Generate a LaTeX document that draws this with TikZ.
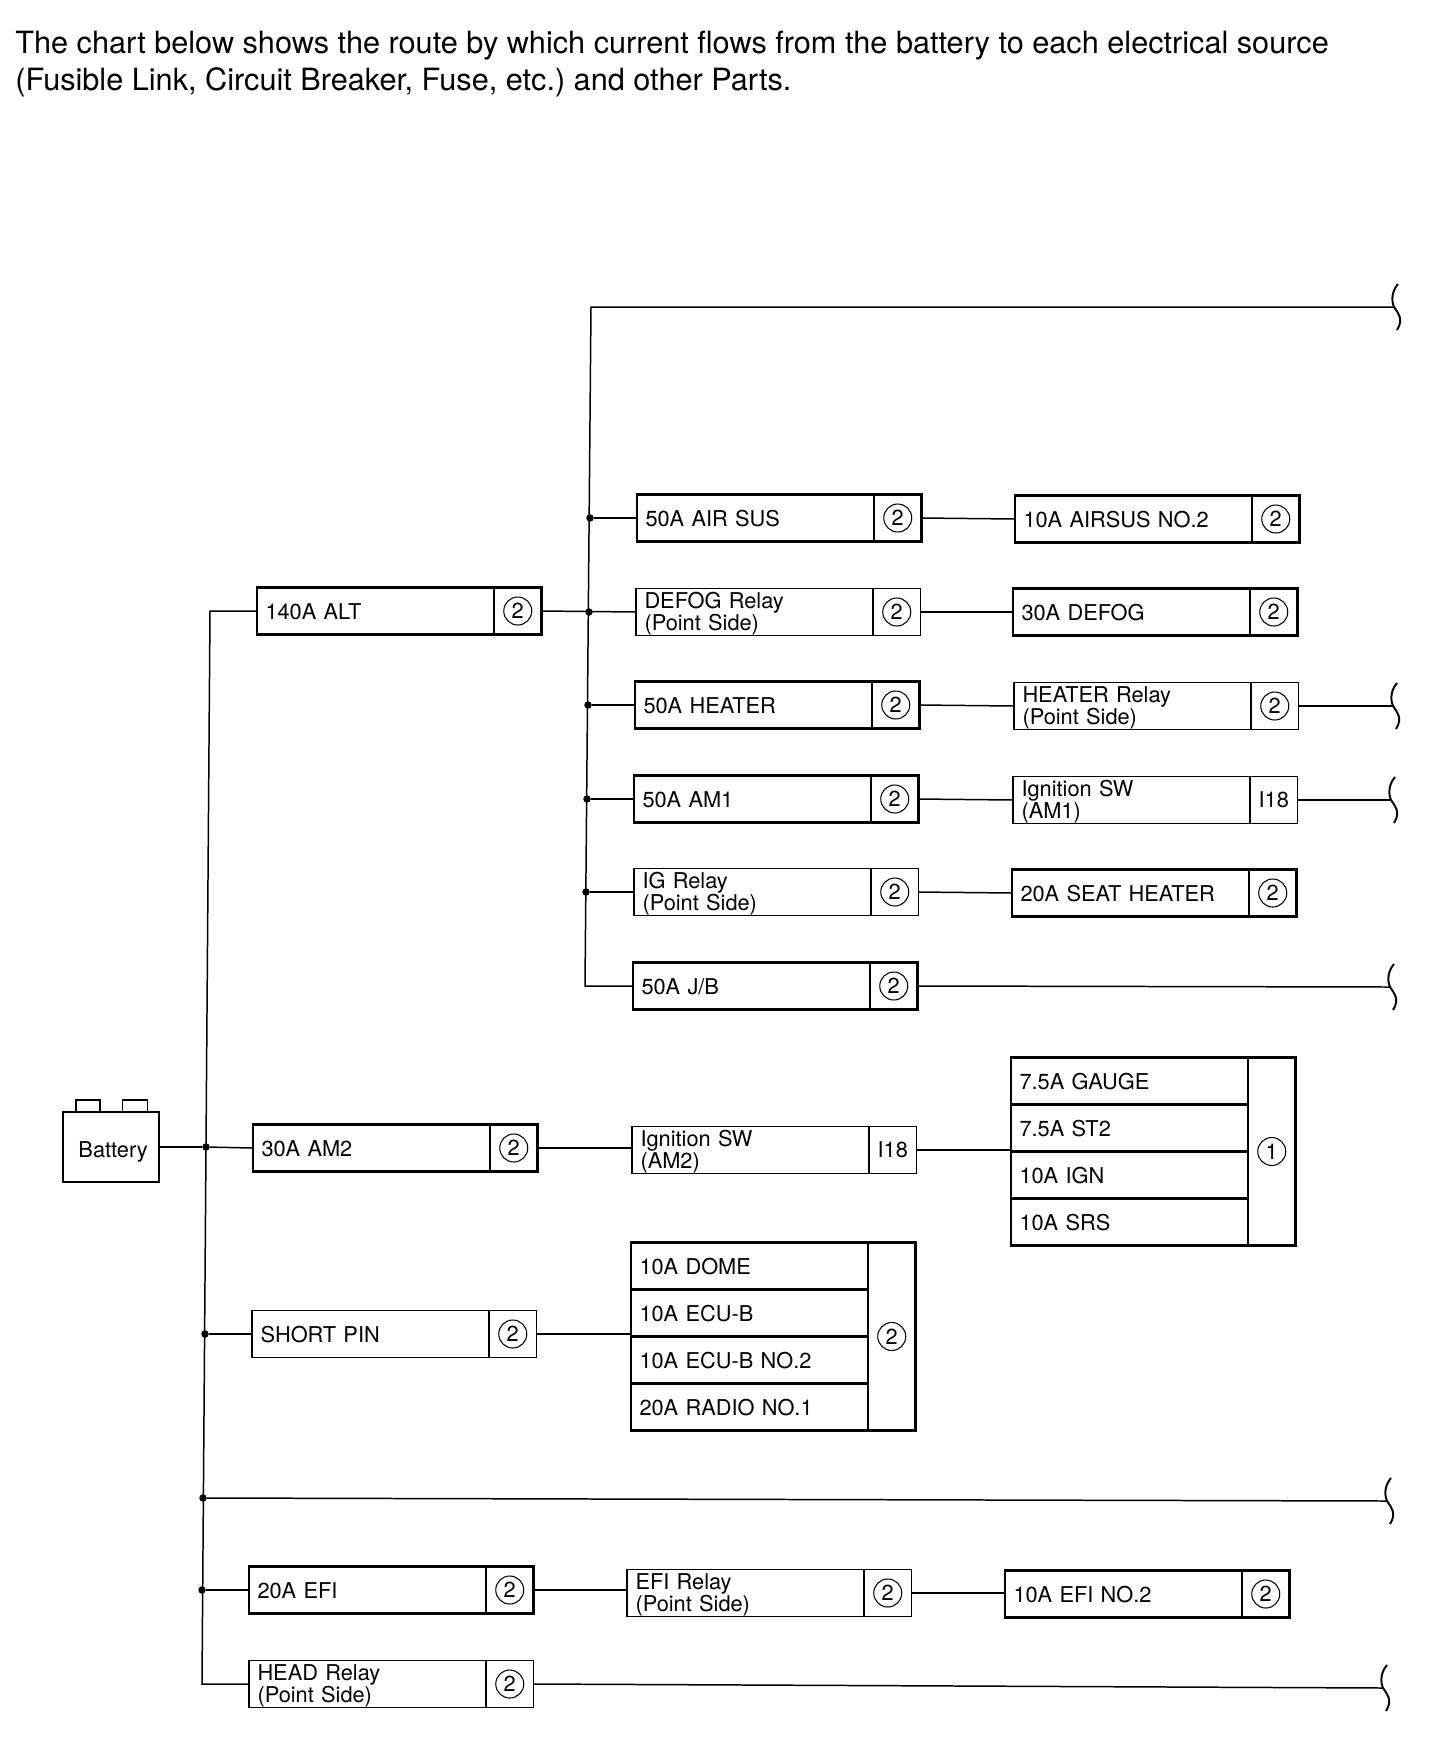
\documentclass[tikz,border=0pt]{standalone}
\usepackage{fontspec}
\setmainfont{TeX Gyre Heros}
\usepackage{tikz}
\usetikzlibrary{positioning}
\frenchspacing

\begin{document}
\begin{tikzpicture}[x=0.2mm,y=-0.2mm]
  \tikzstyle{wire}=[line width=0.85pt]
  \tikzstyle{labelbox}=[rectangle,draw,outer sep=0pt,anchor=west,inner xsep=1.7mm,inner ysep=0pt,text width=4.4cm,minimum height=0.94cm,align=left,font=\fontsize{12.4}{12.5}\selectfont,execute at begin node={\rule{0pt}{10.2pt}}]
  \tikzstyle{tagbox}=[rectangle,draw,outer sep=0pt,inner sep=0pt,minimum width=0.95cm,minimum height=0.94cm,align=center,font=\fontsize{12.4}{12.5}\selectfont]
  \tikzstyle{circled}=[path picture={\draw[line width=0.6pt] (path picture bounding box.center) circle (0.28cm);}]
  \tikzstyle{fusebox}=[labelbox,line width=1.6pt]
  \tikzstyle{relaybox}=[labelbox,line width=0.8pt]
  \tikzstyle{pointbox}=[relaybox,execute at begin node={\rule{0pt}{11pt}}]
  \tikzstyle{fusetag}=[tagbox,circled,line width=1.6pt]
  \tikzstyle{relaytag}=[tagbox,circled,line width=0.8pt]
  \tikzstyle{junction}=[circle,fill=black,inner sep=0pt,minimum size=1.5mm]
  \tikzset{breakmark/.pic={\draw[line width=1.1pt] (4,-23) .. controls (-2,-16) and (-3,-7) .. (0,0) .. controls (4,6) and (10,12) .. (3,23);}}

  \useasboundingbox (0,0) rectangle (1440,1738);

  \node[anchor=north west,inner sep=0pt,align=left,font=\fontsize{17.45}{21}\selectfont] (title) at (15,31) {The chart below shows the route by which current flows from the battery to each electrical source\\(Fusible Link, Circuit Breaker, Fuse, etc.) and other Parts.};

  % battery
  \node[rectangle,draw,line width=1.3pt,outer sep=0pt,minimum width=1.92cm,minimum height=1.4cm,font=\fontsize{12.4}{12.5}\selectfont] (battery) at (111,1147) {\hspace{2.4pt}\raisebox{-6pt}[0pt][0pt]{Battery}};
  \node[rectangle,draw,line width=1.1pt,outer sep=0pt,minimum width=0.48cm,minimum height=0.24cm,anchor=south] (termneg) at (88,1112) {};
  \node[rectangle,draw,line width=1.1pt,outer sep=0pt,minimum width=0.5cm,minimum height=0.24cm,anchor=south] (termpos) at (135,1112) {};

  % first column
  \node[fusebox] (alt) at (257,611) {140A ALT};
  \node[fusetag,right=0pt of alt] (alttag) {2};
  \node[fusebox] (amtwo) at (253,1148) {30A AM2};
  \node[fusetag,right=0pt of amtwo] (amtwotag) {2};
  \node[relaybox] (shortpin) at (252,1334) {SHORT PIN};
  \node[relaytag,right=0pt of shortpin] (shortpintag) {2};
  \node[fusebox] (efi) at (249,1590) {20A EFI};
  \node[fusetag,right=0pt of efi] (efitag) {2};
  \node[pointbox] (head) at (249,1684) {HEAD Relay\\(Point Side)};
  \node[relaytag,right=0pt of head] (headtag) {2};

  % second column
  \node[fusebox] (airsus) at (637,518) {50A AIR SUS};
  \node[fusetag,right=0pt of airsus] (airsustag) {2};
  \node[pointbox] (defogrelay) at (636,612) {DEFOG Relay\\(Point Side)};
  \node[relaytag,right=0pt of defogrelay] (defogrelaytag) {2};
  \node[fusebox] (heater) at (635,705) {50A HEATER};
  \node[fusetag,right=0pt of heater] (heatertag) {2};
  \node[fusebox] (amone) at (634,799) {50A AM1};
  \node[fusetag,right=0pt of amone] (amonetag) {2};
  \node[pointbox] (igrelay) at (634,892) {IG Relay\\(Point Side)};
  \node[relaytag,right=0pt of igrelay] (igrelaytag) {2};
  \node[fusebox] (jb) at (633,986) {50A J/B};
  \node[fusetag,right=0pt of jb] (jbtag) {2};
  \node[pointbox] (ignamtwo) at (632,1150) {Ignition SW\\(AM2)};
  \node[tagbox,line width=0.8pt,right=0pt of ignamtwo] (ignamtwotag) {I18};
  \node[pointbox] (efirelay) at (627,1593) {EFI Relay\\(Point Side)};
  \node[relaytag,right=0pt of efirelay] (efirelaytag) {2};

  % third column
  \node[fusebox] (airsustwo) at (1015,519) {10A AIRSUS NO.2};
  \node[fusetag,right=0pt of airsustwo] (airsustwotag) {2};
  \node[fusebox] (defog) at (1013,612) {30A DEFOG};
  \node[fusetag,right=0pt of defog] (defogtag) {2};
  \node[pointbox] (heaterrelay) at (1014,706) {HEATER Relay\\(Point Side)};
  \node[relaytag,right=0pt of heaterrelay] (heaterrelaytag) {2};
  \node[pointbox] (ignamone) at (1013,800) {Ignition SW\\(AM1)};
  \node[tagbox,line width=0.8pt,right=0pt of ignamone] (ignamonetag) {I18};
  \node[fusebox] (seat) at (1012,893) {20A SEAT HEATER};
  \node[fusetag,right=0pt of seat] (seattag) {2};
  \node[fusebox] (efitwo) at (1005,1594) {10A EFI NO.2};
  \node[fusetag,right=0pt of efitwo] (efitwotag) {2};

  % fuse groups
  \node[fusebox] (gauge) at (1011,1081) {7.5A GAUGE};
  \node[fusebox,below=0pt of gauge] (st) {7.5A ST2};
  \node[fusebox,below=0pt of st] (ign) {10A IGN};
  \node[fusebox,below=0pt of ign] (srs) {10A SRS};
  \node[fusetag,minimum height=3.76cm,anchor=north west] (gaugetag) at (gauge.north east) {1};
  \node[fusebox] (dome) at (631,1266) {10A DOME};
  \node[fusebox,below=0pt of dome] (ecub) {10A ECU-B};
  \node[fusebox,below=0pt of ecub] (ecubtwo) {10A ECU-B NO.2};
  \node[fusebox,below=0pt of ecubtwo] (radio) {20A RADIO NO.1};
  \node[fusetag,minimum height=3.76cm,anchor=north west] (dometag) at (dome.north east) {2};

  % junctions on the buses
  \node[junction] (jamtwo) at (206,1147) {};
  \node[junction] (jshort) at (205,1334) {};
  \node[junction] (jcont) at (203,1498) {};
  \node[junction] (jefi) at (202,1590) {};
  \node[junction] (jairsus) at (590,518) {};
  \node[junction] (jdefog) at (589,612) {};
  \node[junction] (jheater) at (588,705) {};
  \node[junction] (jamone) at (587,799) {};
  \node[junction] (jig) at (586,892) {};

  % free ends and corners
  \coordinate (bustop) at (591,307);
  \coordinate (busbot) at (585,986);
  \coordinate (lefttop) at (210,611);
  \coordinate (leftbot) at (202,1684);
  \coordinate (endtop) at (1394,307);
  \coordinate (endheater) at (1393,706);
  \coordinate (endamone) at (1391,800);
  \coordinate (endjb) at (1390,987);
  \coordinate (endcont) at (1387,1501);
  \coordinate (endhead) at (1383,1688);

  \draw[wire] (endtop) -- (bustop) -- (busbot) -- (jb.west);
  \draw[wire] (alt.west) -- (lefttop) -- (leftbot) -- (head.west);

  \draw[wire] (battery) -- (jamtwo);
  \draw[wire] (jamtwo) -- (amtwo.west);
  \draw[wire] (jshort) -- (shortpin.west);
  \draw[wire] (jcont) -- (endcont);
  \draw[wire] (jefi) -- (efi.west);

  \draw[wire] (alttag.east) -- (defogrelay.west);
  \draw[wire] (jairsus) -- (airsus.west);
  \draw[wire] (jheater) -- (heater.west);
  \draw[wire] (jamone) -- (amone.west);
  \draw[wire] (jig) -- (igrelay.west);

  \draw[wire] (airsustag.east) -- (airsustwo.west);
  \draw[wire] (defogrelaytag.east) -- (defog.west);
  \draw[wire] (heatertag.east) -- (heaterrelay.west);
  \draw[wire] (amonetag.east) -- (ignamone.west);
  \draw[wire] (igrelaytag.east) -- (seat.west);
  \draw[wire] (heaterrelaytag.east) -- (endheater);
  \draw[wire] (ignamonetag.east) -- (endamone);
  \draw[wire] (jbtag.east) -- (endjb);

  \draw[wire] (amtwotag.east) -- (amtwotag.east -| ignamtwo.west);
  \draw[wire] (ignamtwotag.east) -- (ignamtwotag.east -| ign.west);
  \draw[wire] (shortpintag.east) -- (shortpintag.east -| ecubtwo.west);
  \draw[wire] (efitag.east) -- (efitag.east -| efirelay.west);
  \draw[wire] (efirelaytag.east) -- (efirelaytag.east -| efitwo.west);
  \draw[wire] (headtag.east) -- (endhead);

  \path (endtop) pic {breakmark};
  \path (endheater) pic {breakmark};
  \path (endamone) pic {breakmark};
  \path (endjb) pic {breakmark};
  \path (endcont) pic {breakmark};
  \path (endhead) pic {breakmark};
\end{tikzpicture}
\end{document}
